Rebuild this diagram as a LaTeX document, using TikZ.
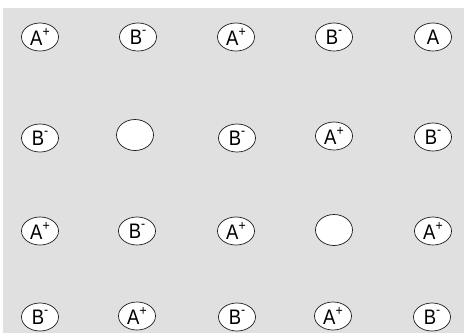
\documentclass[tikz,border=0pt]{standalone}
\usepackage{fontspec}
\setmainfont{Liberation Sans}[FakeStretch=0.88]
\usepackage{tikz}
\usetikzlibrary{shapes.geometric}
\definecolor{latticebg}{RGB}{224,224,224}
\definecolor{ionline}{RGB}{30,30,30}
\newcommand{\ionsup}[1]{\raisebox{0.45em}{\fontsize{14}{14}\selectfont #1}}

\begin{document}
\begin{tikzpicture}[x=1pt, y=-1pt,
      ion/.style={ellipse, draw=ionline, line width=0.7pt, fill=white, inner sep=0pt,
        minimum width=37pt, minimum height=28pt, font=\fontsize{21}{21}\selectfont},
      vacancy/.style={ellipse, draw=ionline, line width=0.7pt, fill=white, inner sep=0pt,
        minimum width=37pt, minimum height=31pt}]
    \useasboundingbox (0,0) rectangle (464,333);
    \fill[latticebg] (3,8) rectangle (464,333);
    % row 1
    \node[ion] (a11) at (40,37) {A\ionsup{+}};
    \node[ion] (a12) at (138,37) {B\ionsup{-}};
    \node[ion] (a13) at (236,37) {A\ionsup{+}};
    \node[ion] (a14) at (334,37) {B\ionsup{-}};
    \node[ion] (a15) at (433,37) {A};
    % row 2
    \node[ion] (a21) at (40,138) {B\ionsup{-}};
    \node[vacancy] (a22) at (135,135) {};
    \node[ion] (a23) at (237,138) {B\ionsup{-}};
    \node[ion] (a24) at (334,136) {A\ionsup{+}};
    \node[ion] (a25) at (433,137) {B\ionsup{-}};
    % row 3
    \node[ion] (a31) at (40,231) {A\ionsup{+}};
    \node[ion] (a32) at (137,231) {B\ionsup{-}};
    \node[ion] (a33) at (236,231) {A\ionsup{+}};
    \node[vacancy] (a34) at (334,230) {};
    \node[ion] (a35) at (433,231) {A\ionsup{+}};
    % row 4
    \node[ion] (a41) at (40,317) {B\ionsup{-}};
    \node[ion] (a42) at (137,316) {A\ionsup{+}};
    \node[ion] (a43) at (237,317) {B\ionsup{-}};
    \node[ion] (a44) at (333,316) {A\ionsup{+}};
    \node[ion] (a45) at (432,317) {B\ionsup{-}};
  \end{tikzpicture}
\end{document}
